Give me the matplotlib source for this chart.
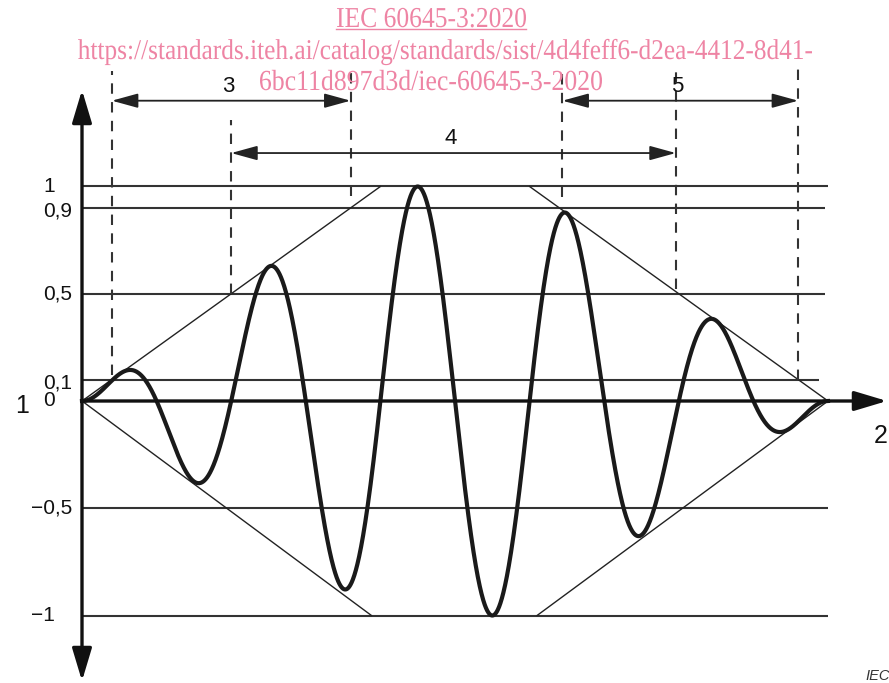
import numpy as np
import matplotlib
matplotlib.use('Agg')
import matplotlib.pyplot as plt
from matplotlib.textpath import TextPath
from matplotlib.patches import PathPatch
from matplotlib.font_manager import FontProperties
from matplotlib.transforms import Affine2D, IdentityTransform

# tone burst: 5 cycles, trapezoid envelope (rise 2 cycles, plateau 1, fall 2)
n_cycles = 5
env_t = [0, 2, 3, 5]
env_v = [0, 1, 1, 0]
low_env_t = [0, 1.94, 3.05, 5]      # lower envelope lines as drawn
low_env_v = [0, -1, -1, 0]

levels = [1, 0.9, 0.5, 0.1, -0.5, -1]
level_labels = ['1', '0,9', '0,5', '0,1', '\u22120,5', '\u22121']
level_ends = [5.0, 4.98, 4.98, 4.94, 5.0, 5.0]

# dashed markers where envelope crosses 10 %, 50 %, 90 %
dash_x = [0.2, 1.0, 1.8, 3.22, 3.98, 4.8]
dash_bottom = [0.12, 0.5, 0.955, 0.95, 0.52, 0.1]
dash_top = [1.54, 1.31, 1.55, 1.56, 1.57, 1.57]

# dimension arrows: (start index, end index, label)
dims = [(0, 2, '3'), (1, 4, '4'), (3, 5, '5')]
dim_y = [1.40, 1.156, 1.40]

LINE = '#222222'
PINK = '#ee84a4'

fig = plt.figure(figsize=(8.89, 6.83), dpi=100)
ax = fig.add_axes([0, 0, 1, 1])

# pixel -> data mapping of the reference
X0_PX, SX = 82.0, 149.2
Y0_PX, SY = 401.0, 214.5
def px2x(p): return (p - X0_PX) / SX
def px2y(p): return (Y0_PX - p) / SY

ax.set_xlim(px2x(0), px2x(889))
ax.set_ylim(px2y(683), px2y(0))
ax.axis('off')

# horizontal level lines
for lv, end in zip(levels, level_ends):
    ax.plot([0, end], [lv, lv], color='#333333', lw=1.5, solid_capstyle='butt', zorder=2)

# envelope lines
ax.plot(env_t[:2], env_v[:2], color=LINE, lw=1.0, zorder=3)
ax.plot(env_t[2:], env_v[2:], color=LINE, lw=1.0, zorder=3)
ax.plot(low_env_t[:2], low_env_v[:2], color=LINE, lw=1.0, zorder=3)
ax.plot(low_env_t[2:], low_env_v[2:], color=LINE, lw=1.0, zorder=3)

# waveform
t = np.linspace(0, n_cycles, 3000)
env = np.interp(t, env_t, env_v)
ax.plot(t, env * np.sin(2 * np.pi * t), color='#1a1a1a', lw=3.0, zorder=4)

# dashed vertical markers
for x, yb, yt in zip(dash_x, dash_bottom, dash_top):
    ax.plot([x, x], [yb, yt], color='#333333', lw=1.5, dashes=[5, 4], zorder=3)

# dimension arrows
for (i, j, lab), yy in zip(dims, dim_y):
    ax.annotate('', xy=(dash_x[j], yy), xytext=(dash_x[i], yy),
                arrowprops=dict(arrowstyle='<|-|>,head_length=0.8,head_width=0.22',
                                mutation_scale=20, lw=1.3,
                                color=LINE, shrinkA=0, shrinkB=0), zorder=5)
    ax.text((dash_x[i] + dash_x[j]) / 2 - 0.02, yy + 0.068, lab, ha='center', va='center',
            fontsize=16, family='Liberation Sans', color='#111111')

# axes with arrows
axis_arrow = dict(arrowstyle='-|>,head_length=0.8,head_width=0.24', mutation_scale=25,
                  lw=2.4, color='#111111', shrinkA=0, shrinkB=0)
ax.annotate('', xy=(0, px2y(90)), xytext=(0, 0), arrowprops=axis_arrow, zorder=6)
ax.annotate('', xy=(0, px2y(681)), xytext=(0, 0), arrowprops=axis_arrow, zorder=6)
ax.annotate('', xy=(px2x(887), 0), xytext=(0, 0), arrowprops=axis_arrow, zorder=6)

# level labels
for lv, lab in zip(levels, level_labels):
    xl = px2x(31) if lv < 0 else px2x(43)
    yl = lv - 0.015 if lab in ('0,9', '0,1') else lv
    ax.text(xl, yl, lab, ha='left', va='center', fontsize=15,
            family='Liberation Sans', color='#111111')
ax.text(px2x(43), 0, '0', ha='left', va='center', fontsize=15,
        family='Liberation Sans', color='#111111')

ax.text(px2x(22), px2y(406), '1', ha='center', va='center', fontsize=18,
        family='Liberation Sans', color='#111111')
ax.text(px2x(874), px2y(436), '2', ha='left', va='center', fontsize=18,
        family='Liberation Sans', color='#111111')
ax.text(px2x(865), px2y(676), 'IEC', ha='left', va='center', fontsize=10.5,
        family='Liberation Sans', style='italic', color='#333333')

# watermark text (condensed serif, pink): text, left px, right px, baseline px
wm = [('IEC 60645-3:2020', 337, 526, 27),
      ('https://standards.iteh.ai/catalog/standards/sist/4d4feff6-d2ea-4412-8d41-', 78, 812, 59),
      ('6bc11d897d3d/iec-60645-3-2020', 260, 602, 90)]
serif = FontProperties(family='Liberation Serif')
stretch = 1.13
for txt, x_l, x_r, base in wm:
    tp = TextPath((0, 0), txt, size=20, prop=serif)
    ext = tp.get_extents()
    sx = (x_r - x_l) / ext.width
    tr = Affine2D().translate(-ext.x0, 0).scale(sx, sx * stretch).translate(x_l, 683 - base)
    ax.add_patch(PathPatch(tp, transform=tr + IdentityTransform(), facecolor=PINK,
                           edgecolor='none', clip_on=False, zorder=7))
ax.plot([px2x(336), px2x(526)], [px2y(29.5), px2y(29.5)], color=PINK, lw=1.0, zorder=7)

fig.savefig('out.png', dpi=100)
